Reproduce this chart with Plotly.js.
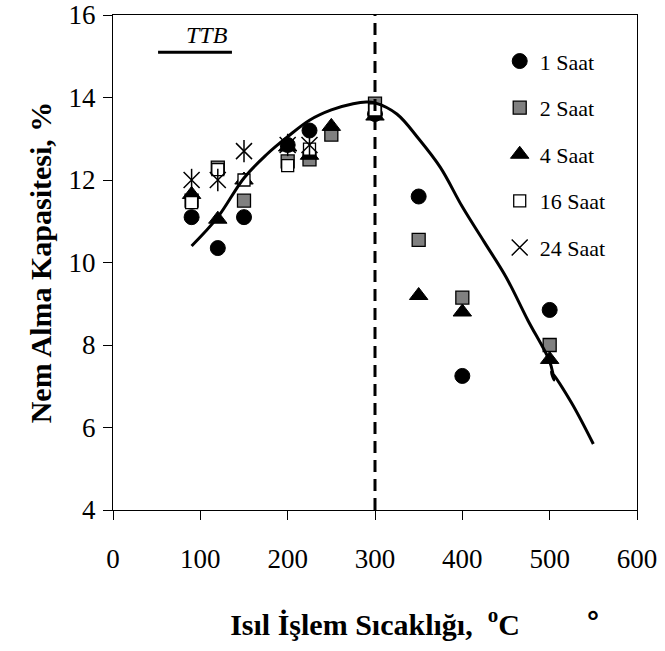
<!DOCTYPE html>
<html>
<head>
<meta charset="utf-8">
<script src="https://cdn.plot.ly/plotly-3.0.1.min.js"></script>
<style>html,body{margin:0;padding:0;background:#fff;}#chart{width:665px;height:651px;}</style>
</head>
<body>
<div id="chart"></div>
<script>
// ---- data ----
const temps1 = [90, 120, 150, 200, 225, 300, 350, 400, 500];
const saat1  = [11.1, 10.35, 11.1, 12.85, 13.2, 13.6, 11.6, 7.25, 8.85];

const temps2 = [90, 120, 150, 200, 225, 250, 300, 350, 400, 500];
const saat2  = [11.5, 12.3, 11.5, 12.45, 12.5, 13.1, 13.85, 10.55, 9.15, 8.0];

const temps4 = [90, 120, 150, 200, 225, 250, 300, 350, 400, 500];
const saat4  = [11.65, 11.05, 12.0, 12.8, 12.6, 13.3, 13.55, 9.2, 8.8, 7.65];

const temps16 = [90, 120, 150, 200, 225, 300];
const saat16  = [11.45, 12.25, 12.0, 12.35, 12.75, 13.7];

const temps24 = [90, 120, 150, 200, 225];
const saat24  = [12.0, 12.0, 12.7, 12.85, 12.85];

const ttbX = [90, 120, 150, 175, 200, 225, 250, 275, 290, 300, 325, 350, 375, 400, 425, 450, 475, 500, 505, 502, 525, 550];
const ttbY = [10.4, 11.1, 12.05, 12.6, 13.05, 13.45, 13.7, 13.85, 13.89, 13.87, 13.6, 13.0, 12.3, 11.35, 10.5, 9.65, 8.6, 7.6, 7.15, 7.35, 6.6, 5.6];

const dividerTemp = [300, 300];
const dividerRange = [4, 16];

const seriesNames = ['1 Saat', '2 Saat', '4 Saat', '16 Saat', '24 Saat'];
const xTicks = [0, 100, 200, 300, 400, 500, 600];
const yTicks = [4, 6, 8, 10, 12, 14, 16];

// ---- traces ----
const serif = "'Liberation Serif', 'Times New Roman', serif";
const traces = [
  {x: temps1, y: saat1, name: seriesNames[0], mode: 'markers', legendgroup: 'g1',
   marker: {symbol: 'circle', size: 15, color: '#000', line: {color: '#000', width: 1}}},
  {x: temps2, y: saat2, name: seriesNames[1], mode: 'markers', legendgroup: 'g2',
   marker: {symbol: 'square', size: 13, color: '#808080', line: {color: '#000', width: 1.3}}},
  {x: temps4, y: saat4, name: seriesNames[2], mode: 'markers', legendgroup: 'g3',
   marker: {symbol: 'triangle-up', size: 16, color: '#000', line: {color: '#000', width: 1}}},
  {x: temps16, y: saat16, name: seriesNames[3], mode: 'markers', legendgroup: 'g4',
   marker: {symbol: 'square', size: 12, color: '#fff', line: {color: '#000', width: 1.3}}},
  {x: temps24, y: saat24, name: seriesNames[4], mode: 'markers', legendgroup: 'g5',
   marker: {symbol: 'x-thin-open', size: 16, color: '#000', line: {color: '#000', width: 1.5}}},
  {x: temps24, y: saat24, name: seriesNames[4], mode: 'markers', legendgroup: 'g5', showlegend: false,
   marker: {symbol: 'line-ns-open', size: 16, color: '#000', line: {color: '#000', width: 1.5}}},
  {x: ttbX, y: ttbY, name: 'TTB', mode: 'lines', showlegend: false,
   line: {color: '#000', width: 3, shape: 'spline', smoothing: 1}},
  {x: dividerTemp, y: dividerRange, mode: 'lines', showlegend: false,
   line: {color: '#000', width: 3, dash: '12px,7px'}}
];

const layout = {
  width: 665, height: 651,
  margin: {l: 113, r: 28, t: 15, b: 141},
  paper_bgcolor: '#fff', plot_bgcolor: '#fff',
  font: {family: serif, color: '#000'},
  showlegend: true,
  legend: {x: 0.738, y: 0.949, xanchor: 'left', yanchor: 'top',
           font: {family: serif, size: 22, color: '#000'},
           tracegroupgap: 15, bgcolor: 'rgba(0,0,0,0)', itemsizing: 'trace'},
  xaxis: {range: [0, 600], tickvals: xTicks, ticks: 'outside', ticklen: 9, tickcolor: '#000',
          showline: true, linecolor: '#000', linewidth: 1, mirror: true,
          showgrid: false, zeroline: false,
          tickfont: {family: serif, size: 27, color: '#000'}, ticklabelstandoff: 16,
          title: {text: '<b>Isıl İşlem Sıcaklığı,  <sup>o</sup>C</b>', font: {family: serif, size: 30, color: '#000'}, standoff: 40}},
  yaxis: {range: [4, 16], tickvals: yTicks, ticks: 'outside', ticklen: 9, tickcolor: '#000',
          showline: true, linecolor: '#000', linewidth: 1, mirror: true,
          showgrid: false, zeroline: false,
          tickfont: {family: serif, size: 27, color: '#000'}, ticklabelstandoff: 2,
          title: {text: '<b>Nem Alma Kapasitesi, %</b>', font: {family: serif, size: 30, color: '#000'}, standoff: 8}},
  shapes: [
    {type: 'line', xref: 'paper', yref: 'paper', x0: 0.086, x1: 0.227, y0: 0.925, y1: 0.925,
     line: {color: '#000', width: 3}}
  ],
  annotations: [
    {xref: 'paper', yref: 'paper', x: 0.224, y: 0.93, xanchor: 'right', yanchor: 'bottom',
     text: '<i>TTB</i>', showarrow: false, font: {family: serif, size: 24, color: '#000'}},
    {xref: 'paper', yref: 'paper', x: 0.916, y: -0.226, xanchor: 'center', yanchor: 'middle',
     text: '<b>°</b>', showarrow: false, font: {family: "'Liberation Sans', Arial, sans-serif", size: 30, color: '#000'}}
  ]
};

Plotly.newPlot('chart', traces, layout, {displayModeBar: false, staticPlot: true});
</script>
</body>
</html>
